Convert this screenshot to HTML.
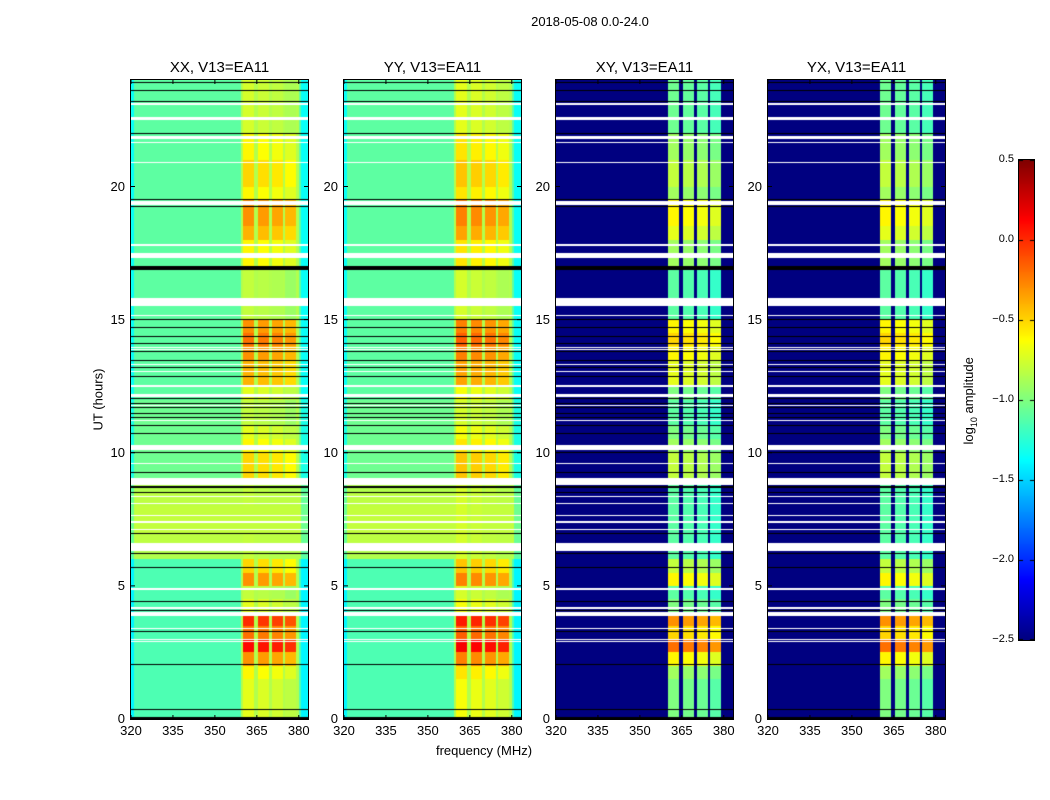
<!DOCTYPE html>
<html><head><meta charset="utf-8">
<style>
body{margin:0;background:#fff;font-family:"Liberation Sans",sans-serif;}
#wrap{position:relative;width:1050px;height:800px;overflow:hidden;}
.t{position:absolute;white-space:nowrap;color:#000;}
canvas{position:absolute;}
</style></head>
<body>
<div id="wrap">
<div class="t" style="left:490px;top:14px;font-size:13px;width:200px;text-align:center">2018-05-08 0.0-24.0</div>
<div class="t" style="left:48px;top:392px;font-size:13px;transform:rotate(-90deg);width:100px;text-align:center">UT (hours)</div>
<div class="t" style="left:384px;top:743px;font-size:13px;width:200px;text-align:center">frequency (MHz)</div>
<div class="t" style="left:910px;top:392px;font-size:13px;transform:rotate(-90deg);width:120px;text-align:center">log<sub style="font-size:9px">10</sub> amplitude</div>
</div>
<script>
// ---- data ----
const pols = ["XX","YY","XY","YX"];
const baselineName = "V13=EA11";
// hot-band log10 amplitude per 0.5h bin (0..24h), XX
const activity = [-0.7,-0.7,-0.7,-0.6,-0.3,0.1,-0.2,0.0,-0.7,-0.8,-0.3,-0.5,-0.8,-0.8,-0.8,-0.8,-0.8,-0.8,-0.5,-0.5,-0.6,-0.7,-0.8,-0.8,-0.7,-0.4,-0.4,-0.3,-0.2,-0.3,-0.8,-0.8,-0.8,-0.8,-0.6,-0.6,-0.4,-0.3,-0.3,-0.6,-0.5,-0.5,-0.6,-0.6,-0.75,-0.75,-0.75,-0.75];
// parallel-hand background per 0.5h bin
const bgLevel = [-1.15,-1.15,-1.15,-1.15,-1.15,-1.15,-1.15,-1.15,-1.15,-1.15,-1.15,-1.15,-0.85,-0.82,-0.8,-0.8,-0.82,-0.85,-1.05,-1.05,-1.05,-1.05,-1.05,-1.05,-1.1,-1.1,-1.1,-1.1,-1.1,-1.1,-1.1,-1.1,-1.1,-1.1,-1.1,-1.1,-1.1,-1.1,-1.1,-1.1,-1.1,-1.1,-1.1,-1.1,-1.1,-1.1,-1.1,-1.1];
const polOffset = [0.0, 0.05, -0.3, -0.3];
const bandStart = [360.1,365.5,370.5,375.1];
const bandEnd = [364.0,369.4,374.4,379.1];
const bandGain = [0.0,-0.03,-0.06,-0.12];
const whiteRows = [[23.05,23.15],[22.5,22.6],[21.8,21.9],[21.62,21.68],[20.87,20.93],[19.3,19.45],[17.75,17.85],[17.3,17.5],[15.5,15.8],[15.12,15.18],[13.92,13.98],[13.87,13.9],[13.28,13.32],[13.03,13.07],[12.47,12.53],[12.1,12.2],[11.76,11.8],[11.2,11.24],[10.1,10.3],[9.58,9.62],[8.8,9.05],[8.35,8.39],[8.08,8.12],[7.63,7.67],[7.38,7.42],[7.11,7.15],[6.3,6.6],[4.86,4.92],[4.15,4.2],[3.85,4.0],[3.38,3.42],[2.98,3.02],[2.88,2.92]];
const blackRows = [[23.88,23.92],[23.58,23.62],[23.18,23.22],[21.98,22.02],[19.48,19.52],[19.23,19.27],[16.88,17.0],[14.98,15.02],[14.68,14.72],[14.33,14.37],[14.08,14.12],[13.78,13.82],[13.43,13.47],[13.18,13.22],[12.83,12.87],[12.03,12.07],[11.84,11.88],[11.68,11.72],[11.46,11.5],[11.31,11.35],[11.01,11.05],[10.71,10.75],[9.98,10.02],[9.25,9.29],[8.66,8.74],[8.48,8.52],[6.96,7.0],[6.18,6.25],[5.68,5.72],[4.38,4.42],[4.05,4.09],[3.28,3.32],[2.04,2.08],[0.33,0.37],[0.0,0.06]];
const xTicks = [320,335,350,365,380];
const yTicks = [0,5,10,15,20];
const cbTicks = [0.5,0.0,-0.5,-1.0,-1.5,-2.0,-2.5];
const vmin=-2.5, vmax=0.5, fmin=320, fmax=383.3, tmin=0, tmax=24;
// ---- layout ----
const panelX=[131,344,556,768], PT=80, PW=177, PH=639;
const wrap=document.getElementById('wrap');
function xScale(f){return (f-fmin)/(fmax-fmin)*PW;}
function yScale(t){return PH-(t-tmin)/(tmax-tmin)*PH;}
function jet(v){let x=(v-vmin)/(vmax-vmin);x=Math.max(0,Math.min(1,x));
 const c=a=>Math.round(255*Math.max(0,Math.min(1,a)));
 return [c(1.5-Math.abs(4*x-3)),c(1.5-Math.abs(4*x-2)),c(1.5-Math.abs(4*x-1))];}
function inBand(f){for(let i=0;i<bandStart.length;i++){if(f>=bandStart[i]&&f<=bandEnd[i])return i;}return -1;}
function cellValue(p,f,t){
 const bi=Math.min(activity.length-1,Math.floor(t/0.5));
 const b=inBand(f);
 const cross=p>=2;
 if(cross){
  if(b<0)return -2.5;
  return Math.max(-1.5,activity[bi]+polOffset[p]+bandGain[b]);
 }
 let bg=bgLevel[bi];
 if(f<321.2||f>380.7)bg-=0.25;
 if(b>=0)return Math.max(bg,activity[bi]+polOffset[p]+bandGain[b]);
 if(f>359.5&&f<380)return Math.max(bg,-0.85);
 return bg;
}
function addText(txt,x,y,size,name,align){
 const d=document.createElement('div');d.className='t';d.textContent=txt;
 
 
 d.style.fontSize=size+'px';d.style.top=y+'px';
 if(align==='c'){d.style.left=(x-50)+'px';d.style.width='100px';d.style.textAlign='center';}
 else if(align==='r'){d.style.left=(x-60)+'px';d.style.width='60px';d.style.textAlign='right';}
 else d.style.left=x+'px';
 wrap.appendChild(d);
}
pols.forEach((pol,p)=>{
 const cv=document.createElement('canvas');
 
 
 cv.width=PW;cv.height=PH;cv.style.left=panelX[p]+'px';cv.style.top=PT+'px';
 wrap.appendChild(cv);
 const ctx=cv.getContext('2d');const img=ctx.createImageData(PW,PH);
 for(let py=0;py<PH;py++){
  const t=tmax-(py+0.5)/PH*(tmax-tmin);
  let flag=0;
  for(const r of whiteRows){if(t>=r[0]&&t<=r[1]){flag=1;break;}}
  for(const r of blackRows){if(t>=r[0]&&t<=r[1]){flag=2;break;}}
  for(let px=0;px<PW;px++){
   const f=fmin+(px+0.5)/PW*(fmax-fmin);
   let col;
   if(flag===1)col=[255,255,255];else if(flag===2)col=[0,0,0];
   else col=jet(cellValue(p,f,t));
   const k=(py*PW+px)*4;img.data[k]=col[0];img.data[k+1]=col[1];img.data[k+2]=col[2];img.data[k+3]=255;
  }
 }
 ctx.putImageData(img,0,0);
 const svgNS='http://www.w3.org/2000/svg';
 const svg=document.createElementNS(svgNS,'svg');
 
 
 svg.setAttribute('width',PW+2);svg.setAttribute('height',PH+2);
 svg.style.position='absolute';svg.style.left=(panelX[p]-1)+'px';svg.style.top=(PT-1)+'px';
 let s=`<rect x="0.5" y="0.5" width="${PW+1}" height="${PH+1}" fill="none" stroke="#000" stroke-width="1"/>`;
 xTicks.forEach(v=>{const x=xScale(v)+1;s+=`<line x1="${x}" y1="${PH+1}" x2="${x}" y2="${PH-3}" stroke="#000"/><line x1="${x}" y1="1" x2="${x}" y2="5" stroke="#000"/>`;});
 yTicks.forEach(v=>{const y=yScale(v)+1;s+=`<line x1="1" y1="${y}" x2="5" y2="${y}" stroke="#000"/><line x1="${PW+1}" y1="${y}" x2="${PW-3}" y2="${y}" stroke="#000"/>`;});
 svg.innerHTML=s;wrap.appendChild(svg);
 addText(pol+', '+baselineName,panelX[p]+PW/2,59,15,'panel-title-'+pol.toLowerCase(),'c');
 xTicks.forEach(v=>addText(String(v),panelX[p]+xScale(v),723,13,'x-tick-label','c'));
 yTicks.forEach(v=>addText(String(v),panelX[p]-6,PT+yScale(v)-8,13,'y-tick-label','r'));
});
// colorbar
const cbX=1019,cbT=160,cbW=15,cbH=480;
const cb=document.createElement('canvas');


cb.width=cbW;cb.height=cbH;cb.style.left=cbX+'px';cb.style.top=cbT+'px';cb.style.outline='1px solid #000';
wrap.appendChild(cb);
const cctx=cb.getContext('2d');
for(let y=0;y<cbH;y++){const v=vmax-(y+0.5)/cbH*(vmax-vmin);const c=jet(v);cctx.fillStyle=`rgb(${c[0]},${c[1]},${c[2]})`;cctx.fillRect(0,y,cbW,1);}
cctx.fillStyle='#000';
cbTicks.forEach(v=>{
 const yy=(vmax-v)/(vmax-vmin)*cbH;
 cctx.fillRect(0,Math.min(cbH-1,Math.max(0,yy)),4,1);cctx.fillRect(cbW-4,Math.min(cbH-1,Math.max(0,yy)),4,1);
 const y=cbT+yy;
 addText((v<0?'\u2212':'')+Math.abs(v).toFixed(1),cbX-5,y-7,11,'colorbar-tick-label','r');
});
</script>
</body></html>
